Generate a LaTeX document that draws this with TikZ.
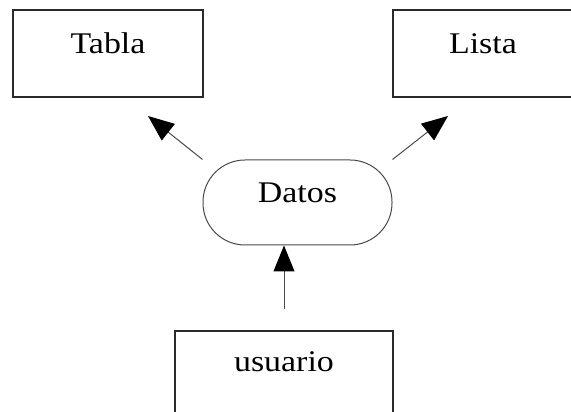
\documentclass[tikz,border=0pt]{standalone}
\usepackage{fontspec}
\setmainfont{Liberation Serif}[FakeStretch=1.13]
\usetikzlibrary{arrows.meta,calc}
\definecolor{edge}{HTML}{2A2A2A}
\definecolor{wire}{HTML}{4A4A4A}
\begin{document}
\begin{tikzpicture}[x=1pt,y=1pt,
  every node/.style={font=\fontsize{30}{36}\selectfont, text height=13pt, text depth=13pt, inner sep=0pt},
  box/.style={draw=edge, line width=1.5pt, rectangle},
  store/.style={draw=wire, line width=1pt, rectangle, rounded corners=42pt},
  flow/.style={draw=wire, line width=1pt, -{Triangle[length=26pt,width=21pt,color=black]}}]
  \useasboundingbox (0,0) rectangle (571,412);
  % entities and the data store
  \node[box, minimum width=190pt, minimum height=87pt] (tabla) at (108,358.5) {Tabla};
  \node[box, minimum width=180pt, minimum height=87pt] (lista) at (483,358.5) {Lista};
  \node[store, minimum width=189pt, minimum height=85pt] (datos) at (297.5,209.5) {Datos};
  \node[box, minimum width=218pt, minimum height=82pt] (usuario) at (284,40) {usuario};
  % free ends of the connectors
  \coordinate (tablaIn) at (148,296);
  \coordinate (listaIn) at (448,296);
  \coordinate (usuarioOut) at ($(usuario.north)+(0,21)$);
  % flows
  \draw[flow] (usuarioOut) -- (usuarioOut |- datos.south);
  \draw[flow] (datos.north west) -- (tablaIn);
  \draw[flow] (datos.north east) -- (listaIn);
\end{tikzpicture}
\end{document}
